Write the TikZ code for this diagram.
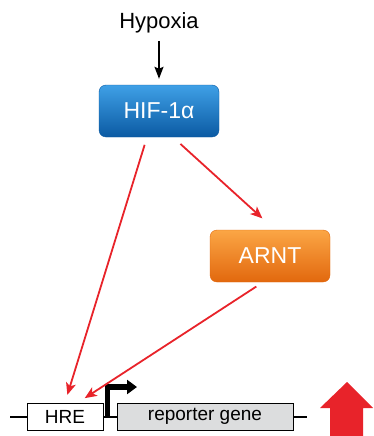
\documentclass[tikz,border=0pt]{standalone}
\usepackage{fontspec}
\setmainfont{Liberation Sans}
\usetikzlibrary{calc,arrows.meta,positioning}
\definecolor{hifc}{HTML}{1A78C8}
\definecolor{hiftop}{HTML}{3FA0E6}
\definecolor{hifbot}{HTML}{0B5AA3}
\definecolor{arntc}{HTML}{EE7F1A}
\definecolor{arnttop}{HTML}{FBA645}
\definecolor{arntbot}{HTML}{E2680E}
\definecolor{redc}{HTML}{E8232A}
\definecolor{genebg}{HTML}{DCDDDE}
\tikzset{
  ar/.style={-{Stealth[length=12pt,width=10pt,inset=3pt]},line width=1.8pt,redc},
  blk/.style={-{Stealth[length=12pt,width=9pt,inset=2pt]},line width=1.6pt,black},
  box/.style={rounded corners=7pt,minimum width=120pt,minimum height=52pt,text=white,font=\fontsize{23}{26}\selectfont,inner sep=0pt},
  gene/.style={draw=black,line width=1pt,minimum height=27pt,inner sep=0pt,font=\fontsize{19}{22}\selectfont}
}
\begin{document}
\begin{tikzpicture}[x=1pt,y=-1pt]
\useasboundingbox (0,0) rectangle (373,436);
% stimulus
\node[font=\fontsize{22}{26}\selectfont] (hyp) at (159,23) {Hypoxia};
% factors
\node[box,draw=hifbot,top color=hiftop,bottom color=hifbot] (hif) at (159,111) {HIF-1α};
\node[box,draw=arntbot,top color=arnttop,bottom color=arntbot] (arnt) at (270,256) {ARNT};
% reporter construct
\coordinate (dnaL) at (10,417);
\coordinate (dnaR) at (307,417);
\draw[line width=1.3pt] (dnaL) -- (dnaR);
\node[gene,fill=white,minimum width=76pt] (hre) at (65,416.5) {HRE};
\node[gene,fill=genebg,minimum width=176pt] (rep) at (205,416.5) {reporter gene};
\coordinate (tss) at (107.5,417);
\coordinate (tssT) at (107.5,387);
\coordinate (tssE) at (137,387);
\draw[line width=5.5pt,-{Triangle[length=10pt,width=14pt]}] (tss) -- (tssT) -- (tssE);
% arrows
\draw[blk,shorten <=4pt,shorten >=6pt] (hyp.south) -- (hif.north);
\draw[ar,shorten <=8pt,shorten >=8pt] ([xshift=-12pt]hif.south) -- (hre.north);
\draw[ar,shorten <=10pt,shorten >=17pt] ([xshift=14pt]hif.south) -- ([xshift=5pt]arnt.north);
\draw[ar,shorten <=8pt,shorten >=8pt] ([xshift=-7pt]arnt.south) -- ([xshift=13pt]hre.north);
% induction
\fill[redc] (330,436) -- (330,408) -- (320,408) -- (347,382) -- (373,408) -- (363,408) -- (363,436) -- cycle;
\end{tikzpicture}
\end{document}
